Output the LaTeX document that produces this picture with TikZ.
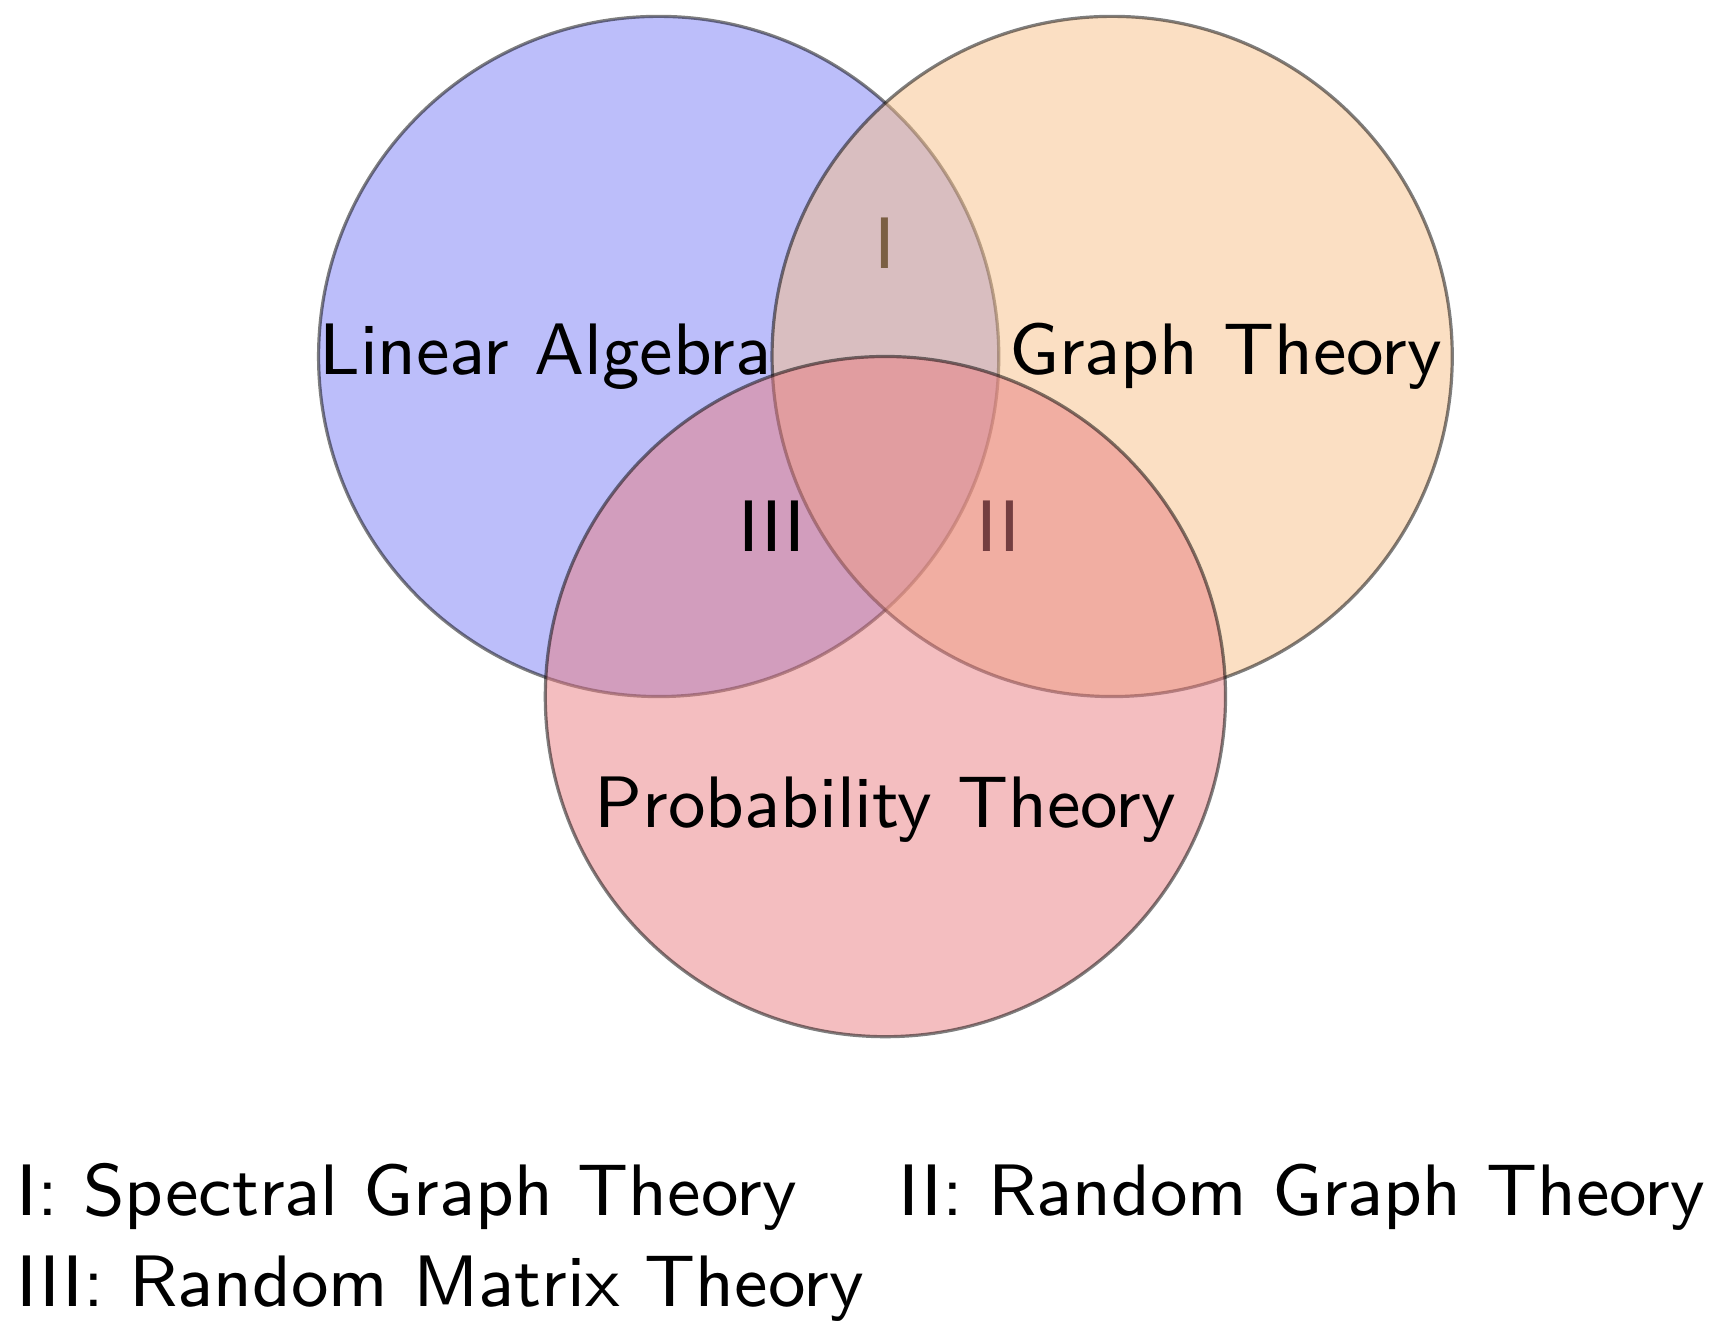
\documentclass[tikz,border=0pt]{standalone}
\usepackage{tikz}
\usetikzlibrary{shapes}
\definecolor{setb}{RGB}{121,125,245}
\definecolor{setor}{RGB}{247,191,135}
\definecolor{setr}{RGB}{233,125,129}
\tikzset{
  setblue/.style={circle,draw=black,fill=setb,opacity=0.5,minimum size=3cm,inner sep=0pt},
  setorange/.style={circle,draw=black,fill=setor,opacity=0.5,minimum size=3cm,inner sep=0pt},
  setred/.style={circle,draw=black,fill=setr,opacity=0.5,minimum size=3cm,inner sep=0pt},
  lbl/.style={font=\sffamily\fontsize{9.15}{11}\selectfont,inner sep=0pt},
  legend/.style={lbl,anchor=base west},
}
\begin{document}
\begin{tikzpicture}
    \useasboundingbox (-2.905,-4.321) rectangle (4.725,1.572);

    \node[setblue] (la) at (0,0) {};
    \node[lbl] (latxt) at (-0.5,0) {Linear Algebra};
    \node[lbl] (one) at (1,0.5) {I};

    \node[setorange] (gt) at (2,0) {};
    \node[lbl] (gttxt) at (2.5,0) {Graph Theory};
    \node[lbl] (two) at (1.5,-0.75) {II};

    \node[setred] (pt) at (1,-1.5) {};
    \node[lbl] (pttxt) at (1,-2) {Probability Theory};
    \node[lbl] (three) at (0.5,-0.75) {III};

    % legend
    \node[legend] (leg1) at (-2.84,-3.79) {I: Spectral Graph Theory};
    \node[legend] (leg2) at (1.05,-3.79) {II: Random Graph Theory};
    \node[legend] (leg3) at (-2.84,-4.19) {III: Random Matrix Theory};
\end{tikzpicture}
\end{document}
